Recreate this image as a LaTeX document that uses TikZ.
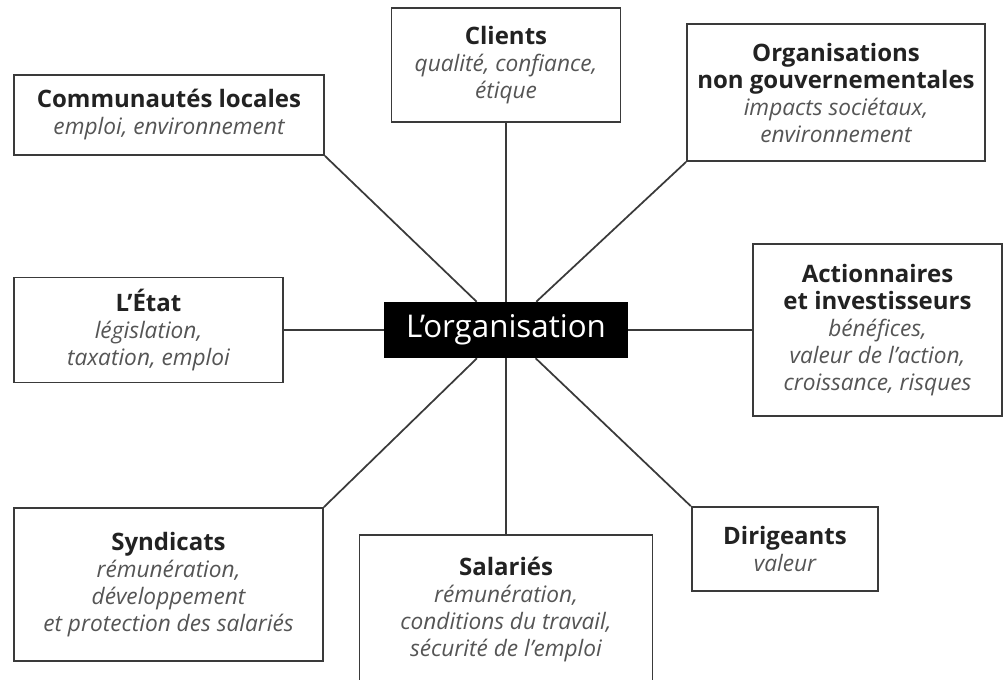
\documentclass[tikz,border=0pt]{standalone}
\usepackage{fontspec}
\setmainfont{Open Sans}
\definecolor{linegray}{HTML}{3A3A3A}
\definecolor{ttlgray}{HTML}{222222}
\definecolor{txtgray}{HTML}{555555}
\newcommand{\acteur}[1]{{\fontsize{18}{20.25}\selectfont\textbf{\color{ttlgray}#1}}}
\newcommand{\enjeu}[1]{{\fontsize{17}{20.25}\selectfont\textit{\color{txtgray}#1}}}

\begin{document}
\begin{tikzpicture}[x=0.75pt, y=-0.75pt,
	partie/.style={draw=linegray, line width=1.3pt, fill=white, inner sep=0pt, align=center, font=\fontsize{17}{20.25}\selectfont},
	lien/.style={draw=linegray, line width=1.3pt}]
	\fill[white] (0, 0) rectangle (1003, 679);
	\clip (0, 0) rectangle (1003, 679);

	% centre
	\node[fill=black, text=white, inner sep=0pt, minimum width=183pt, minimum height=42pt, font=\fontsize{23.5}{27}\selectfont] (org) at (506, 330) {L’organisation};

	% parties prenantes
	\node[partie, minimum width=232.5pt, minimum height=60pt] (comm) at (169, 115) {\acteur{Communautés locales}\\ \enjeu{emploi, environnement}};
	\node[partie, minimum width=171.75pt, minimum height=85.5pt] (clients) at (506, 65) {\acteur{Clients}\\ \enjeu{qualité, confiance,}\\ \enjeu{étique}};
	\node[partie, minimum width=223.5pt, minimum height=102.75pt] (ong) at (836, 92.5) {\acteur{Organisations}\\ \acteur{non gouvernementales}\\ \enjeu{impacts sociétaux,}\\ \enjeu{environnement}};
	\node[partie, minimum width=201.75pt, minimum height=78.75pt] (etat) at (148.5, 330) {\acteur{L’État}\\ \enjeu{législation,}\\ \enjeu{taxation, emploi}};
	\node[partie, minimum width=186.75pt, minimum height=129pt] (action) at (877.5, 330) {\acteur{Actionnaires}\\ \acteur{et investisseurs}\\ \enjeu{bénéfices,}\\ \enjeu{valeur de l’action,}\\ \enjeu{croissance, risques}};
	\node[partie, minimum width=231.75pt, minimum height=114.75pt] (synd) at (168.5, 584.5) {\acteur{Syndicats}\\ \enjeu{rémunération,}\\ \enjeu{développement}\\ \enjeu{et protection des salariés}};
	\node[partie, minimum width=219.75pt, minimum height=112.5pt] (sal) at (506, 610) {\acteur{Salariés}\\ \enjeu{rémunération,}\\ \enjeu{conditions du travail,}\\ \enjeu{sécurité de l’emploi}};
	\node[partie, minimum width=140pt, minimum height=63pt] (dir) at (785, 549) {\acteur{Dirigeants}\\ \enjeu{valeur}};

	% liens
	\draw[lien] (comm.south east) -- (org);
	\draw[lien] (clients) -- (org);
	\draw[lien] (ong.south west) -- (org);
	\draw[lien] (etat) -- (org);
	\draw[lien] (action) -- (org);
	\draw[lien] (synd.north east) -- (org);
	\draw[lien] (sal) -- (org);
	\draw[lien] (dir.north west) -- (org);
\end{tikzpicture}
\end{document}
